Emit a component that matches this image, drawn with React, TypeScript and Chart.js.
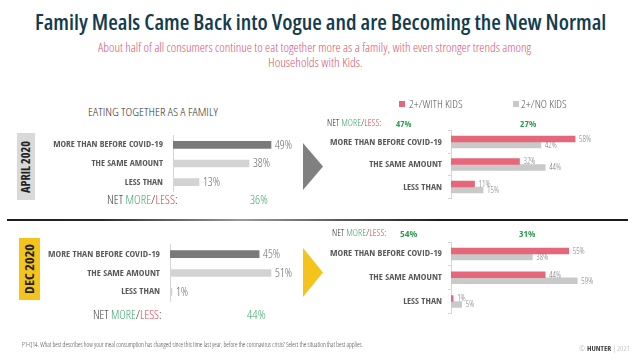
import React, { useEffect, useLayoutEffect, useRef } from 'react';
import { Chart, registerables } from 'chart.js';

Chart.register(...registerables);

// ---------------- data ----------------
const CATEGORIES = ['MORE THAN BEFORE COVID-19', 'THE SAME AMOUNT', 'LESS THAN'];
const PERIODS = ['APRIL 2020', 'DEC 2020'];
const SERIES = ['2+/WITH KIDS', '2+/NO KIDS'];
const APRIL_ALL = [49, 38, 13];
const DEC_ALL = [45, 51, 1];
const APRIL_WITH_KIDS = [58, 32, 11];
const APRIL_NO_KIDS = [42, 44, 15];
const DEC_WITH_KIDS = [55, 44, 1];
const DEC_NO_KIDS = [38, 59, 5];
const NET_ALL = [36, 44];
const NET_WITH_KIDS = [47, 54];
const NET_NO_KIDS = [27, 31];

const TITLE = 'Family Meals Came Back into Vogue and are Becoming the New Normal';
const SUB1 = 'About half of all consumers continue to eat together more as a family, with even stronger trends among';
const SUB2 = 'Households with Kids.';
const SECTION = 'EATING TOGETHER AS A FAMILY';
const FOOTNOTE = 'P1-Q14. What best describes how your meal consumption has changed since this time last year, before the coronavirus crisis? Select the situation that best applies.';

// ---------------- style ----------------
const PINK = '#e6667a';
const GRAY = '#c9c9c9';
const DARK = '#7a7a7a';
const LIGHT = '#d3d3d3';
const AXIS = '#d6d6d6';
const GREEN = '#3fa66b';
const GREEN_B = '#2f9c55';
const RED = '#e03a40';
const YELLOW = '#f4c31c';

const SANS = '"Open Sans", "Liberation Sans", sans-serif';
const BOLD_COND = '"Open Sans Condensed", "Open Sans", sans-serif';

function fitSize(text: string, target: number, font: string, stretch: string): number {
  const ctx = document.createElement('canvas').getContext('2d') as any;
  ctx.font = font.replace('SIZE', '100px');
  ctx.fontStretch = stretch;
  return (100 * target) / ctx.measureText(text).width;
}

// ---------------- text helper ----------------
function T({ x, yc, w, size, color = '#333', weight = 300, rot = false, children }: any) {
  const ref = useRef<HTMLSpanElement>(null);
  useLayoutEffect(() => {
    const el = ref.current!;
    const nat = el.offsetWidth;
    const s = w && nat ? w / nat : 1;
    el.style.transform = rot
      ? `translate(-50%, -50%) rotate(-90deg) scaleX(${s})`
      : `scaleX(${s})`;
  });
  const style: React.CSSProperties = {
    position: 'absolute',
    whiteSpace: 'nowrap',
    display: 'inline-block',
    fontFamily: SANS,
    fontStretch: 'condensed',
    fontSize: size,
    lineHeight: `${size}px`,
    fontWeight: weight,
    color,
    left: x,
    top: rot ? yc : yc - size / 2,
    transformOrigin: rot ? 'center center' : 'left center',
  };
  return <span ref={ref} style={style}>{children}</span>;
}

// ---------------- chart helper ----------------
type Spec = {
  canvasLeft: number;
  axisX: number;
  areaTop: number;
  areaH: number;
  pxPer: number;
  max: number;
  datasets: any[];
  tickPad: number;
  tickLen: number;
  tickTarget: number;
  valueTarget: number;
  valueRef: string;
  valueColor: string;
};

function geometry(s: Spec) {
  const top = Math.floor(s.areaTop) - 12;
  const padTop = s.areaTop - top;
  const height = Math.ceil(s.areaTop + s.areaH + 12) - top;
  const padBottom = height - padTop - s.areaH;
  const yw = s.axisX - s.canvasLeft;
  const width = Math.ceil(yw + s.pxPer * s.max + 32);
  const padRight = width - yw - s.pxPer * s.max;
  return { left: s.canvasLeft, top, width, height, padTop, padBottom, padRight, yw };
}

function BarChart({ spec }: { spec: Spec }) {
  const ref = useRef<HTMLCanvasElement>(null);
  const g = geometry(spec);
  useEffect(() => {
    const tickSize = fitSize(CATEGORIES[0], spec.tickTarget, `bold SIZE ${BOLD_COND}`, 'normal');
    const valSize = fitSize(spec.valueRef, spec.valueTarget, `300 SIZE ${SANS}`, 'condensed');
    const valuePlugin = {
      id: 'valueLabels',
      afterDatasetsDraw(chart: any) {
        const ctx = chart.ctx;
        ctx.save();
        ctx.font = `300 ${valSize}px ${SANS}`;
        ctx.fontStretch = 'condensed';
        ctx.fillStyle = spec.valueColor;
        ctx.textAlign = 'left';
        ctx.textBaseline = 'middle';
        chart.data.datasets.forEach((ds: any, i: number) => {
          const meta = chart.getDatasetMeta(i);
          meta.data.forEach((bar: any, j: number) => {
            ctx.fillText(`${ds.data[j]}%`, bar.x + 4, bar.y + 0.5);
          });
        });
        ctx.fontStretch = 'normal';
        ctx.restore();
      },
    };
    const chart = new Chart(ref.current!, {
      type: 'bar',
      data: { labels: CATEGORIES, datasets: spec.datasets },
      options: {
        indexAxis: 'y',
        responsive: false,
        maintainAspectRatio: false,
        animation: false,
        events: [],
        layout: { padding: { left: 0, top: g.padTop, bottom: g.padBottom, right: g.padRight } },
        plugins: { legend: { display: false }, tooltip: { enabled: false } },
        scales: {
          x: { display: false, min: 0, max: spec.max },
          y: {
            position: 'left',
            grid: {
              display: spec.tickLen > 0,
              drawOnChartArea: false,
              drawTicks: spec.tickLen > 0,
              tickLength: spec.tickLen,
              color: AXIS,
            },
            border: { display: true, color: AXIS, width: 1 },
            ticks: {
              autoSkip: false,
              padding: spec.tickPad,
              color: '#595959',
              font: { family: BOLD_COND, size: tickSize, weight: 'bold' },
            },
            afterFit: (scale: any) => {
              scale.width = g.yw;
            },
          },
        },
      } as any,
      plugins: [valuePlugin],
    });
    return () => chart.destroy();
  }, []);
  return (
    <canvas
      ref={ref}
      width={g.width}
      height={g.height}
      style={{ position: 'absolute', left: g.left, top: g.top, width: g.width, height: g.height }}
    />
  );
}

const APRIL_SPEC: Spec = {
  canvasLeft: 30, axisX: 173, areaTop: 132.75, areaH: 61.5, pxPer: 2, max: 60,
  datasets: [{ data: APRIL_ALL, backgroundColor: [DARK, LIGHT, LIGHT], barThickness: 7 }],
  tickPad: 10, tickLen: 0, tickTarget: 110, valueTarget: 17, valueRef: '49%', valueColor: '#6a6a6a',
};
const DEC_SPEC: Spec = {
  canvasLeft: 30, axisX: 170, areaTop: 241.5, areaH: 63, pxPer: 1.98, max: 60,
  datasets: [{ data: DEC_ALL, backgroundColor: [DARK, LIGHT, LIGHT], barThickness: 7 }],
  tickPad: 10, tickLen: 0, tickTarget: 112, valueTarget: 17, valueRef: '45%', valueColor: '#6a6a6a',
};
const APRIL_KIDS_SPEC: Spec = {
  canvasLeft: 322, axisX: 451, areaTop: 130.75, areaH: 67.5, pxPer: 2.14, max: 70,
  datasets: [
    { label: SERIES[0], data: APRIL_WITH_KIDS, backgroundColor: PINK, barThickness: 6 },
    { label: SERIES[1], data: APRIL_NO_KIDS, backgroundColor: GRAY, barThickness: 6 },
  ],
  tickPad: 6, tickLen: 3, tickTarget: 112, valueTarget: 12, valueRef: '58%', valueColor: '#808080',
};
const DEC_KIDS_SPEC: Spec = {
  canvasLeft: 322, axisX: 451, areaTop: 242.1, areaH: 71.25, pxPer: 2.14, max: 70,
  datasets: [
    { label: SERIES[0], data: DEC_WITH_KIDS, backgroundColor: PINK, barThickness: 6 },
    { label: SERIES[1], data: DEC_NO_KIDS, backgroundColor: GRAY, barThickness: 6 },
  ],
  tickPad: 6, tickLen: 3, tickTarget: 112, valueTarget: 12, valueRef: '55%', valueColor: '#808080',
};

function NetLabel({ x, yc, w, size, weight = 400 }: any) {
  return (
    <T x={x} yc={yc} w={w} size={size} color="#333" weight={weight}>
      NET <span style={{ color: GREEN }}>MORE</span>/<span style={{ color: RED }}>LESS</span>:
    </T>
  );
}

export default function App() {
  return (
    <div
      style={{
        position: 'absolute', left: 0, top: 0, width: 638, height: 359,
        background: '#fff', overflow: 'hidden',
      }}
    >
      {/* title */}
      <T x={35} yc={22} w={571} size={21} weight={600} color="#143c4e">{TITLE}</T>
      <T x={98} yc={48.5} w={433} size={12.5} color="#d6566f">{SUB1}</T>
      <T x={268} yc={63} w={95} size={12.5} color="#d6566f">{SUB2}</T>

      {/* section label */}
      <T x={88} yc={111} w={130} size={11} weight={300} color="#333">{SECTION}</T>

      {/* period boxes */}
      <div style={{ position: 'absolute', left: 17, top: 133, width: 18, height: 67, background: '#d9d9d9' }} />
      <T x={26} yc={166.5} w={52} size={12} weight={700} color="#222" rot>{PERIODS[0]}</T>
      <div style={{ position: 'absolute', left: 19, top: 238, width: 21, height: 62, background: YELLOW }} />
      <T x={29.5} yc={269} w={50} size={12.5} weight={700} color="#222" rot>{PERIODS[1]}</T>

      {/* separator */}
      <div
        style={{
          position: 'absolute', left: 7, top: 219, width: 621, height: 2,
          background: 'linear-gradient(to right, #1c1c1c 0%, #2a2a2a 15%, #9a9a9a 38%, #555 55%, #1c1c1c 70%, #1c1c1c 100%)',
        }}
      />

      {/* arrows */}
      <svg width={638} height={359} style={{ position: 'absolute', left: 0, top: 0 }}>
        <polygon points="303,143 323,166.5 303,190" fill="#808080" />
        <polygon points="303,248 323,272.5 303,297" fill={YELLOW} />
      </svg>

      {/* charts */}
      <BarChart spec={APRIL_SPEC} />
      <BarChart spec={DEC_SPEC} />
      <BarChart spec={APRIL_KIDS_SPEC} />
      <BarChart spec={DEC_KIDS_SPEC} />

      {/* net rows left */}
      <NetLabel x={107} yc={200.5} w={70} size={12.5} weight={300} />
      <T x={250} yc={200.5} w={18} size={12.5} color={GREEN}>{NET_ALL[0]}%</T>
      <NetLabel x={93} yc={315.5} w={68} size={12.5} weight={300} />
      <T x={247} yc={315.5} w={19} size={12.5} color={GREEN}>{NET_ALL[1]}%</T>

      {/* legend */}
      <div style={{ position: 'absolute', left: 399, top: 101, width: 6, height: 6, background: PINK }} />
      <T x={409} yc={104} w={54} size={11.5} color="#595959">{SERIES[0]}</T>
      <div style={{ position: 'absolute', left: 513, top: 101, width: 6, height: 6, background: GRAY }} />
      <T x={521} yc={104} w={46} size={11.5} color="#595959">{SERIES[1]}</T>

      {/* net rows right */}
      <NetLabel x={327} yc={123} w={54} size={8.5} weight={300} />
      <T x={396} yc={123} w={15} size={9} weight={700} color={GREEN_B}>{NET_WITH_KIDS[0]}%</T>
      <T x={520} yc={123} w={16} size={9} weight={700} color={GREEN_B}>{NET_NO_KIDS[0]}%</T>
      <NetLabel x={332} yc={233} w={54} size={8.5} weight={300} />
      <T x={400} yc={233} w={17} size={9} weight={700} color={GREEN_B}>{NET_WITH_KIDS[1]}%</T>
      <T x={519} yc={233} w={16} size={9} weight={700} color={GREEN_B}>{NET_NO_KIDS[1]}%</T>

      {/* footer */}
      <T x={22} yc={345} w={341} size={6.5} color="#444">{FOOTNOTE}</T>
      <T x={579} yc={348} w={51} size={7} color="#aaa">
        © <span style={{ color: '#444', fontWeight: 700 }}>HUNTER</span> | 2021
      </T>
    </div>
  );
}
